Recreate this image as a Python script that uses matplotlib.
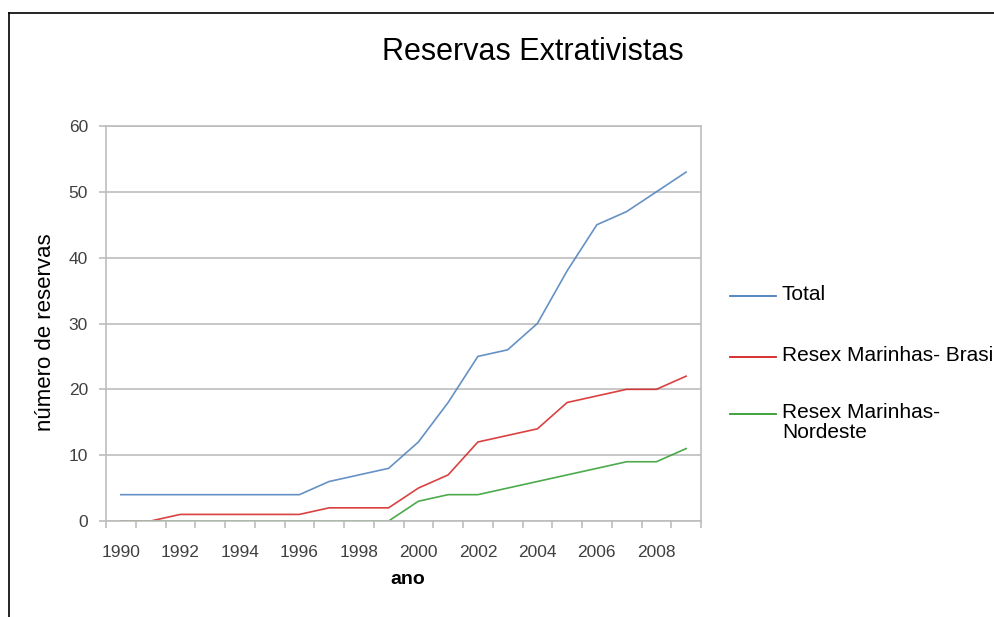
import matplotlib
matplotlib.use("Agg")
import matplotlib.pyplot as plt
from matplotlib.lines import Line2D

plt.rcParams['font.family'] = ['Liberation Sans', 'DejaVu Sans']

years = list(range(1990, 2010))
total = [4, 4, 4, 4, 4, 4, 4, 6, 7, 8, 12, 18, 25, 26, 30, 38, 45, 47, 50, 53]
brasil = [0, 0, 1, 1, 1, 1, 1, 2, 2, 2, 5, 7, 12, 13, 14, 18, 19, 20, 20, 22]
nordeste = [0, 0, 0, 0, 0, 0, 0, 0, 0, 0, 3, 4, 4, 5, 6, 7, 8, 9, 9, 11]
series_names = ["Total", "Resex Marinhas- Brasil", "Resex Marinhas-\nNordeste"]
colors = ["#4a7ebb", "#d42020", "#2e9b2e"]
yticks = [0, 10, 20, 30, 40, 50, 60]

fig = plt.figure(figsize=(9.94, 6.17), dpi=100)
ax = fig.add_axes([106/994, 1 - 521/617, 595/994, 395/617])

x = list(range(len(years)))
for vals, c in zip([total, brasil, nordeste], colors):
    ax.plot(x, vals, color=c, lw=1.2, alpha=0.85, solid_joinstyle='round')

ax.set_xlim(-0.5, len(years) - 0.5)
ax.set_ylim(0, 60)
ax.set_yticks(yticks)
ax.set_yticklabels([str(v) for v in yticks], fontsize=12.5, color='#404040')
ax.yaxis.grid(True, color='#bdbdbd', lw=1.2)
ax.set_axisbelow(True)

# category tick marks between categories, labels every other category
ax.set_xticks([i - 0.5 for i in range(len(years) + 1)])
ax.set_xticklabels([])
ax.set_xticks(x[::2], minor=True)
ax.set_xticklabels([str(y) for y in years[::2]], minor=True, fontsize=12.5, color='#404040')
ax.tick_params(axis='x', which='major', length=5, color='#bdbdbd', width=1.2)
ax.tick_params(axis='x', which='minor', length=0, pad=17)
ax.tick_params(axis='y', length=5, color='#bdbdbd', width=1.2, pad=8)

for s in ['top', 'right']:
    ax.spines[s].set_visible(False)
for s in ['left', 'bottom']:
    ax.spines[s].set_color('#bdbdbd')
    ax.spines[s].set_linewidth(1.2)
ax.plot([1, 1], [0, 1], transform=ax.transAxes, color='#bdbdbd', lw=1.2, clip_on=False)
ax.plot([0, 1], [1, 1], transform=ax.transAxes, color='#bdbdbd', lw=1.2, clip_on=False)

ax.set_xlabel("ano", fontsize=14, fontweight='bold', va='center')
ax.xaxis.set_label_coords((408 - 106) / 595, (521 - 580) / 395)
ax.set_ylabel("número de reservas", fontsize=16, va='center')
ax.yaxis.set_label_coords((46 - 106) / 595, (521 - 332) / 395)

fig.text(533/994, 1 - 52/617, "Reservas Extrativistas", fontsize=22, ha='center', va='center')

# legend
leg_y = [296, 357, 414]
for name, c, yy in zip(series_names, colors, leg_y):
    fig.add_artist(Line2D([730/994, 776/994], [1 - yy/617, 1 - yy/617], color=c, lw=1.3))
    fig.text(782/994, 1 - (yy - 11)/617, name, fontsize=15, ha='left', va='top', linespacing=1.05)

# outer frame (partially visible)
fig.add_artist(Line2D([9/994, 9/994], [0, 1 - 13/617], color='black', lw=1.2))
fig.add_artist(Line2D([9/994, 1], [1 - 13/617, 1 - 13/617], color='black', lw=1.2))

fig.savefig("out.png", dpi=100)
